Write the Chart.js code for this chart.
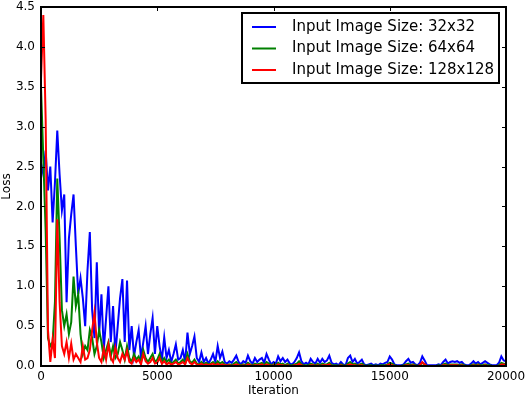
<!DOCTYPE html>
<html>
<head>
<meta charset="utf-8">
<script src="https://cdn.jsdelivr.net/npm/chart.js@4.4.0/dist/chart.umd.min.js"></script>
<style>
  html, body { margin: 0; padding: 0; background: #fff; }
  #wrap { width: 526px; height: 398px; }
</style>
</head>
<body>
<div id="wrap"><canvas id="lossChart" width="526" height="398"></canvas></div>
<script>
const STEP = 100;

const loss32 = [
  2.55, 2.4, 2.7, 2.2, 2.5, 1.8, 2.3, 2.95, 2.4, 1.95,
  2.15, 0.8, 1.6, 1.9, 2.15, 1.5, 0.9, 1.1, 0.85, 0.5,
  1.2, 1.68, 0.7, 0.35, 1.3, 0.4, 0.9, 0.2, 0.6, 1.0,
  0.3, 0.75, 0.15, 0.5, 0.85, 1.09, 0.3, 1.07, 0.2, 0.5,
  0.12, 0.3, 0.45, 0.1, 0.3, 0.5, 0.15, 0.4, 0.6, 0.15,
  0.5, 0.25, 0.08, 0.36, 0.1, 0.2, 0.05, 0.15, 0.27, 0.08,
  0.1, 0.2, 0.05, 0.42, 0.15, 0.25, 0.37, 0.1, 0.05, 0.17,
  0.05, 0.1, 0.03, 0.08, 0.15, 0.05, 0.25, 0.1, 0.18, 0.05,
  0.03,
  0.06, 0.04, 0.08, 0.13, 0.05, 0.02, 0.06, 0.04, 0.13, 0.06,
  0.03, 0.1, 0.05, 0.08, 0.1, 0.04, 0.15, 0.08, 0.02, 0.05,
  0.03, 0.12, 0.06, 0.1, 0.05, 0.08, 0.03, 0.02, 0.05, 0.1,
  0.17, 0.06, 0.02, 0.04, 0.02, 0.09, 0.05, 0.03, 0.09, 0.04,
  0.09, 0.05, 0.07, 0.13, 0.04, 0.02, 0.03, 0.01, 0.05, 0.02,
  0.01, 0.1, 0.13, 0.05, 0.09, 0.03, 0.05, 0.08, 0.02, 0.01,
  0.02, 0.03, 0.01, 0.02, 0.01, 0.03, 0.02, 0.04, 0.05, 0.12,
  0.08, 0.02, 0.01, 0.01, 0.01, 0.02, 0.06, 0.09, 0.04, 0.05,
  0.02, 0.01, 0.04, 0.12, 0.07, 0.01, 0.01, 0.01, 0.01, 0.01,
  0.02, 0.01, 0.05, 0.08, 0.03, 0.05, 0.06, 0.05, 0.06, 0.04,
  0.05, 0.02, 0.01, 0.01, 0.03, 0.06, 0.03, 0.05, 0.02, 0.04,
  0.06, 0.04, 0.02, 0.01, 0.01, 0.01, 0.04, 0.12, 0.07, 0.06
];

const loss64 = [
  3.5, 2.6, 1.7, 0.35, 0.25, 0.3, 0.8, 2.35, 1.6, 0.7,
  0.5, 0.65, 0.4, 0.55, 1.12, 0.75, 0.9, 0.4, 0.15, 0.25,
  0.2, 0.45, 0.35, 0.15, 0.25, 0.45, 0.3, 0.1, 0.2, 0.3,
  0.12, 0.25, 0.1, 0.15, 0.3, 0.2, 0.08, 0.25, 0.1, 0.05,
  0.15, 0.08, 0.12, 0.05, 0.2, 0.1, 0.05, 0.1, 0.15, 0.05,
  0.08, 0.15, 0.04, 0.1, 0.05, 0.08, 0.03, 0.05, 0.08, 0.03,
  0.05, 0.08, 0.03, 0.15, 0.06, 0.04, 0.08, 0.03, 0.02, 0.05,
  0.02, 0.04, 0.02, 0.03, 0.05, 0.02, 0.06, 0.03, 0.05, 0.02,
  0.01,
  0.02, 0.01, 0.03, 0.05, 0.02, 0.01, 0.02, 0.01, 0.04, 0.02,
  0.01, 0.03, 0.02, 0.03, 0.04, 0.01, 0.05, 0.03, 0.01, 0.02,
  0.01, 0.04, 0.02, 0.03, 0.01, 0.03, 0.01, 0.01, 0.02, 0.03,
  0.06, 0.02, 0.01, 0.01, 0.01, 0.03, 0.02, 0.01, 0.03, 0.01,
  0.03, 0.02, 0.02, 0.04, 0.01, 0.01, 0.01, 0.0, 0.02, 0.01,
  0.0, 0.03, 0.05, 0.02, 0.03, 0.01, 0.02, 0.03, 0.01, 0.0,
  0.01, 0.01, 0.0, 0.01, 0.0, 0.01, 0.01, 0.01, 0.02, 0.04,
  0.03, 0.01, 0.0, 0.0, 0.0, 0.01, 0.02, 0.03, 0.01, 0.02,
  0.01, 0.0, 0.01, 0.04, 0.02, 0.0, 0.0, 0.0, 0.0, 0.0,
  0.01, 0.0, 0.02, 0.03, 0.01, 0.02, 0.02, 0.02, 0.02, 0.01,
  0.02, 0.01, 0.0, 0.0, 0.01, 0.02, 0.01, 0.02, 0.01, 0.01,
  0.02, 0.01, 0.01, 0.0, 0.0, 0.0, 0.01, 0.04, 0.03, 0.02
];

const loss128 = [
  3.6, 4.4, 3.1, 0.45, 0.05, 0.33, 0.1, 1.84, 0.8, 0.25,
  0.15, 0.3, 0.1, 0.28, 0.08, 0.15, 0.1, 0.05, 0.25, 0.08,
  0.1, 0.2, 0.45, 0.67, 0.3, 0.1, 0.05, 0.22, 0.08, 0.27,
  0.1, 0.05, 0.23, 0.1, 0.05, 0.15, 0.08, 0.19, 0.05, 0.03,
  0.1, 0.05, 0.08, 0.02, 0.15, 0.06, 0.03, 0.05, 0.1, 0.03,
  0.04, 0.1, 0.03, 0.06, 0.02, 0.04, 0.02, 0.03, 0.05, 0.02,
  0.03, 0.05, 0.02, 0.1, 0.04, 0.02, 0.05, 0.02, 0.01, 0.03,
  0.01, 0.02, 0.01, 0.02, 0.03, 0.01, 0.03, 0.01, 0.02, 0.01,
  0.01,
  0.01, 0.0, 0.01, 0.02, 0.01, 0.0, 0.01, 0.0, 0.02, 0.01,
  0.0, 0.01, 0.01, 0.01, 0.02, 0.0, 0.02, 0.01, 0.0, 0.01,
  0.0, 0.02, 0.01, 0.01, 0.0, 0.01, 0.0, 0.0, 0.01, 0.01,
  0.03, 0.01, 0.0, 0.0, 0.0, 0.01, 0.01, 0.0, 0.01, 0.0,
  0.01, 0.01, 0.01, 0.02, 0.0, 0.0, 0.0, 0.0, 0.01, 0.0,
  0.0, 0.01, 0.02, 0.01, 0.01, 0.0, 0.01, 0.01, 0.0, 0.0,
  0.0, 0.0, 0.0, 0.0, 0.0, 0.0, 0.0, 0.0, 0.01, 0.02,
  0.01, 0.0, 0.0, 0.0, 0.0, 0.0, 0.01, 0.01, 0.0, 0.01,
  0.0, 0.0, 0.01, 0.05, 0.02, 0.0, 0.0, 0.0, 0.0, 0.0,
  0.0, 0.0, 0.01, 0.01, 0.0, 0.01, 0.01, 0.01, 0.01, 0.0,
  0.01, 0.0, 0.0, 0.0, 0.0, 0.01, 0.0, 0.01, 0.0, 0.0,
  0.01, 0.0, 0.0, 0.0, 0.0, 0.0, 0.0, 0.02, 0.02, 0.01
];

const seriesLabels = [
  'Input Image Size: 32x32',
  'Input Image Size: 64x64',
  'Input Image Size: 128x128'
];
const seriesColors = ['#0000ff', '#008000', '#ff0000'];

const xMax = 20000;
const xTickStep = 5000;
const yMax = 4.5;
const yTickStep = 0.5;

const iterations = loss32.map((_, i) => i * STEP);

const FONT = 'DejaVu Sans';

// matplotlib-style frame with inward ticks on all four sides
const frameTicks = {
  id: 'frameTicks',
  afterDatasetsDraw(chart) {
    const { ctx, chartArea: a, scales } = chart;
    const len = 4;
    ctx.save();
    ctx.strokeStyle = '#000';
    ctx.lineWidth = 1;
    ctx.beginPath();
    scales.x.ticks.forEach(t => {
      const px = Math.round(scales.x.getPixelForValue(t.value)) + 0.5;
      ctx.moveTo(px, a.bottom); ctx.lineTo(px, a.bottom - len);
      ctx.moveTo(px, a.top); ctx.lineTo(px, a.top + len);
    });
    scales.y.ticks.forEach(t => {
      const py = Math.round(scales.y.getPixelForValue(t.value)) + 0.5;
      ctx.moveTo(a.left, py); ctx.lineTo(a.left + len, py);
      ctx.moveTo(a.right, py); ctx.lineTo(a.right - len, py);
    });
    ctx.stroke();
    ctx.lineWidth = 2;
    ctx.strokeRect(a.left, a.top, a.right - a.left, a.bottom - a.top);
    ctx.restore();
  }
};

// boxed legend in the upper right corner of the plot
const boxLegend = {
  id: 'boxLegend',
  afterDraw(chart) {
    const { ctx, chartArea: a } = chart;
    const right = a.right - 7, top = a.top + 6;
    const w = 257, h = 70, rowH = 21.5;
    const left = right - w;
    ctx.save();
    ctx.fillStyle = '#fff';
    ctx.fillRect(left, top, w, h);
    ctx.strokeStyle = '#000';
    ctx.lineWidth = 2;
    ctx.strokeRect(left, top, w, h);
    ctx.font = '15px "' + FONT + '"';
    ctx.textBaseline = 'middle';
    chart.data.datasets.forEach((ds, i) => {
      const cy = top + 14 + i * rowH;
      ctx.strokeStyle = ds.borderColor;
      ctx.lineWidth = 2;
      ctx.beginPath();
      ctx.moveTo(left + 10, cy);
      ctx.lineTo(left + 34, cy);
      ctx.stroke();
      ctx.fillStyle = '#000';
      ctx.fillText(ds.label, left + 50, cy);
    });
    ctx.restore();
  }
};

const datasets = [loss32, loss64, loss128].map((vals, i) => ({
  label: seriesLabels[i],
  data: vals.map((v, j) => ({ x: iterations[j], y: v })),
  borderColor: seriesColors[i],
  borderWidth: 2,
  pointRadius: 0,
  tension: 0,
  fill: false,
  order: 2 - i
}));

new Chart(document.getElementById('lossChart'), {
  type: 'line',
  data: { datasets },
  options: {
    responsive: false,
    animation: false,
    layout: { padding: { left: 0, top: 7, right: 20, bottom: 0 } },
    plugins: {
      legend: { display: false },
      tooltip: { enabled: false }
    },
    scales: {
      x: {
        type: 'linear',
        min: 0,
        max: xMax,
        grid: { display: false, drawTicks: false },
        border: { display: false },
        ticks: {
          stepSize: xTickStep,
          padding: 5,
          color: '#000',
          font: { family: FONT, size: 12, lineHeight: 1 },
          maxRotation: 0,
          callback: v => String(v)
        },
        title: {
          display: true,
          text: 'Iteration',
          color: '#000',
          font: { family: FONT, size: 12 },
          padding: { top: 7, bottom: 0 }
        },
        afterFit: s => { s.height = 32; s.paddingLeft = 0; s.paddingRight = 0; }
      },
      y: {
        min: 0,
        max: yMax,
        grid: { display: false, drawTicks: false },
        border: { display: false },
        ticks: {
          stepSize: yTickStep,
          padding: 6,
          color: '#000',
          font: { family: FONT, size: 12, lineHeight: 1 },
          callback: v => v.toFixed(1)
        },
        title: {
          display: true,
          text: 'Loss',
          color: '#000',
          font: { family: FONT, size: 12 },
          padding: { top: 0, bottom: 0 }
        },
        afterFit: s => { s.width = 41; s.paddingTop = 0; s.paddingBottom = 0; }
      }
    }
  },
  plugins: [frameTicks, boxLegend]
});
</script>
</body>
</html>
